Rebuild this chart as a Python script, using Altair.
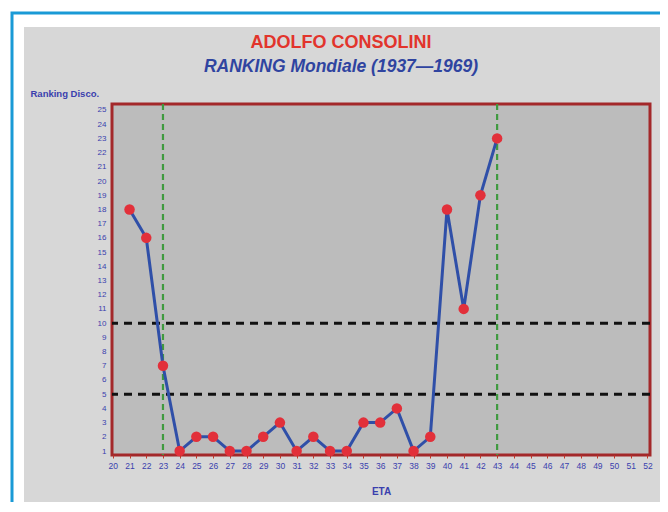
import altair as alt
import pandas as pd

ages = [21, 22, 23, 24, 25, 26, 27, 28, 29, 30, 31, 32, 33, 34, 35, 36, 37, 38, 39, 40, 41, 42, 43]
ranks = [18, 16, 7, 1, 2, 2, 1, 1, 2, 3, 1, 2, 1, 1, 3, 3, 4, 1, 2, 18, 11, 19, 23]
hlines = [5, 10]
vlines = [23, 43]
x_ticks = list(range(20, 53))
y_ticks = list(range(1, 26))

title = "ADOLFO CONSOLINI"
subtitle = "RANKING Mondiale (1937\u20141969)"
y_title = "Ranking Disco."
x_title = "ETA"

W, H = 538, 351
df = pd.DataFrame({"eta": ages, "rank": ranks})
df_h = pd.DataFrame({"y": hlines})
df_v = pd.DataFrame({"x": vlines})
one = pd.DataFrame({"a": [0]})

xs = alt.Scale(domain=[19.95, 52.15], nice=False, zero=False)
ys = alt.Scale(domain=[0.72, 25.42], nice=False, zero=False)

lab_col = "#3a3fae"

x_axis = alt.Axis(values=x_ticks, title=x_title, grid=False, domain=False, zindex=3,
                  labelOverlap=False, tickColor="#c0392b", tickSize=3, labelColor=lab_col,
                  labelFontSize=8.5, labelFont="Liberation Sans", labelPadding=3, labelFlush=False,
                  titleColor=lab_col, titleFont="Liberation Sans", titleFontSize=10,
                  titleFontWeight="bold", titleY=36, titleBaseline="middle")
y_axis = alt.Axis(values=y_ticks, title=y_title, grid=False, domain=False, ticks=False, zindex=3,
                  labelOverlap=False, labelColor=lab_col, labelFontSize=8, labelFont="Liberation Sans",
                  labelPadding=6, labelFlush=False, titleColor=lab_col, titleFont="Liberation Sans",
                  titleFontSize=9.5, titleFontWeight="bold", titleAngle=0,
                  titleAlign="left", titleBaseline="middle", titleX=-82, titleY=-11)

blue_border = alt.Chart(one).mark_rect(fill="white", stroke="#1a9ad6", strokeWidth=3).encode(
    x=alt.value(-100), x2=alt.value(620), y=alt.value(-91), y2=alt.value(460))
panel = alt.Chart(one).mark_rect(fill="#d7d7d7").encode(
    x=alt.value(-88), x2=alt.value(560), y=alt.value(-77), y2=alt.value(398))
plotbg = alt.Chart(one).mark_rect(fill="#bcbcbc", stroke="#a3282a", strokeWidth=3).encode(
    x=alt.value(0), x2=alt.value(W), y=alt.value(0), y2=alt.value(H))

t1 = alt.Chart(one).mark_text(text=title, font="Liberation Sans", fontSize=18, fontWeight="bold",
                              color="#e2342c", align="center", baseline="middle").encode(
    x=alt.value(229), y=alt.value(-61))
t2 = alt.Chart(one).mark_text(text=subtitle, font="Liberation Sans", fontSize=17.5, fontWeight="bold",
                              fontStyle="italic", color="#2f44a0", align="center", baseline="middle").encode(
    x=alt.value(229), y=alt.value(-37))

hr = alt.Chart(df_h).mark_rule(color="#111111", strokeWidth=3, strokeDash=[8, 6]).encode(
    y=alt.Y("y:Q", scale=ys, axis=y_axis))
vr = alt.Chart(df_v).mark_rule(color="#3f9a3f", strokeWidth=2.2, strokeDash=[6, 4]).encode(
    x=alt.X("x:Q", scale=xs, axis=x_axis))

base = alt.Chart(df).encode(
    x=alt.X("eta:Q", scale=xs, axis=x_axis),
    y=alt.Y("rank:Q", scale=ys, axis=y_axis),
)
line = base.mark_line(color="#2f4fa8", strokeWidth=3)
pts = base.mark_circle(color="#e2303a", size=110, opacity=1)

chart = alt.layer(blue_border, panel, plotbg, t1, t2, hr, vr, line, pts).properties(
    width=W, height=H,
    autosize=alt.AutoSizeParams(type="none"),
    padding={"left": 104, "top": 96, "right": 10, "bottom": 47},
    background="white",
).configure_view(stroke=None, fill=None).configure_axis(labelOverlap=False)

chart.save("out.html", embed_options={"renderer": "svg", "actions": False})
